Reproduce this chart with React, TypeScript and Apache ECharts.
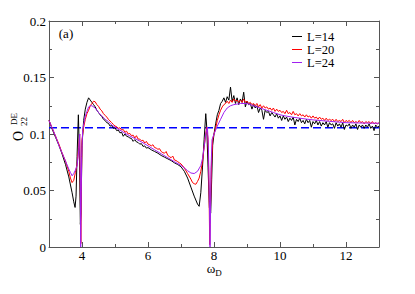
import React, { useEffect, useRef } from "react";
import * as echarts from "echarts";

const FONT = "Liberation Serif";

// axis ticks
const xMajorTicks = [4, 6, 8, 10, 12];
const xMinorTicks = [5, 7, 9, 11];
const referenceLevel = 0.1055;

const seriesNames = ["L=14", "L=20", "L=24"];
const seriesColors = ["#000000", "#ff0000", "#a020f0"];

// L=14 (black) head part
const x14Head = [3.0, 3.1, 3.2, 3.3, 3.4, 3.5, 3.6, 3.7, 3.75, 3.79, 3.82, 3.85, 3.89, 3.92, 3.95, 3.97, 4.0, 4.05, 4.1, 4.15, 4.2, 4.25, 4.3, 4.35, 4.4, 4.45, 4.5, 4.55, 4.6, 4.65, 4.7, 4.75, 4.8, 4.85, 4.9, 4.95, 5.0, 5.05, 5.1, 5.15, 5.2, 5.25, 5.3, 5.35, 5.4, 5.45, 5.5, 5.55, 5.6, 5.65, 5.7, 5.75, 5.8, 5.85, 5.9, 5.95, 6.0, 6.1, 6.2, 6.3, 6.4, 6.5, 6.6, 6.7, 6.8, 6.9, 7.0, 7.1, 7.2, 7.3, 7.4, 7.5, 7.55, 7.6, 7.65, 7.7, 7.75, 7.78, 7.82, 7.86, 7.9, 7.93, 7.96];
const y14Head = [0.112, 0.104, 0.097, 0.09, 0.082, 0.073, 0.062, 0.048, 0.04, 0.035, 0.045, 0.08, 0.117, 0.085, 0.02, 0.03, 0.09, 0.112, 0.122, 0.128, 0.132, 0.13, 0.128, 0.126, 0.124, 0.121, 0.119, 0.117, 0.1155, 0.113, 0.112, 0.11, 0.1095, 0.107, 0.1075, 0.105, 0.1055, 0.103, 0.1035, 0.101, 0.1015, 0.098, 0.1, 0.098, 0.0975, 0.0965, 0.096, 0.0935, 0.095, 0.093, 0.0925, 0.091, 0.0915, 0.089, 0.0895, 0.0875, 0.088, 0.086, 0.0845, 0.083, 0.081, 0.0795, 0.078, 0.0765, 0.0745, 0.073, 0.071, 0.067, 0.061, 0.053, 0.045, 0.038, 0.036, 0.048, 0.07, 0.095, 0.118, 0.106, 0.07, 0.035, 0.03, 0.06, 0.09];

// sampling grid of the noisy tail (8.00 .. 13.00, step 0.05)
const xTail = Array.from({ length: 101 }, (_, i) => Math.round((8 + i * 0.05) * 100) / 100);

const y14Tail = [0.1, 0.109, 0.117, 0.121, 0.127, 0.129, 0.132, 0.128, 0.133, 0.13, 0.1415, 0.129, 0.134, 0.127, 0.132, 0.126, 0.131, 0.128, 0.137, 0.124, 0.129, 0.126, 0.127, 0.122, 0.126, 0.123, 0.125, 0.119, 0.123, 0.121, 0.113, 0.121, 0.119, 0.12, 0.116, 0.119, 0.117, 0.115, 0.118, 0.114, 0.116, 0.112, 0.116, 0.113, 0.115, 0.111, 0.114, 0.112, 0.115, 0.108, 0.113, 0.111, 0.114, 0.11, 0.112, 0.109, 0.113, 0.11, 0.112, 0.106, 0.111, 0.109, 0.112, 0.108, 0.111, 0.107, 0.11, 0.108, 0.111, 0.106, 0.11, 0.108, 0.109, 0.105, 0.11, 0.107, 0.109, 0.106, 0.11, 0.104, 0.108, 0.107, 0.109, 0.105, 0.108, 0.106, 0.109, 0.104, 0.108, 0.106, 0.108, 0.105, 0.108, 0.106, 0.109, 0.105, 0.107, 0.103, 0.108, 0.106, 0.107];

// L=20 (red)
const x20Head = [3.0, 3.1, 3.2, 3.3, 3.4, 3.5, 3.6, 3.65, 3.7, 3.75, 3.8, 3.85, 3.9, 3.93, 3.95, 3.965, 3.98, 4.0, 4.05, 4.1, 4.15, 4.2, 4.25, 4.3, 4.35, 4.4, 4.45, 4.5, 4.55, 4.6, 4.65, 4.7, 4.75, 4.8, 4.85, 4.9, 4.95, 5.0, 5.05, 5.1, 5.15, 5.2, 5.25, 5.3, 5.35, 5.4, 5.45, 5.5, 5.55, 5.6, 5.65, 5.7, 5.75, 5.8, 5.85, 5.9, 5.95, 6.0, 6.05, 6.1, 6.15, 6.2, 6.25, 6.3, 6.35, 6.4, 6.45, 6.5, 6.55, 6.6, 6.65, 6.7, 6.75, 6.8, 6.85, 6.9, 6.95, 7.0, 7.1, 7.2, 7.3, 7.35, 7.4, 7.45, 7.5, 7.55, 7.6, 7.65, 7.7, 7.75, 7.78, 7.82, 7.85, 7.87, 7.89, 7.92, 7.96];
const y20Head = [0.112, 0.105, 0.098, 0.091, 0.083, 0.076, 0.067, 0.061, 0.057, 0.059, 0.066, 0.073, 0.088, 0.1, 0.05, 0.003, 0.05, 0.095, 0.106, 0.113, 0.118, 0.121, 0.125, 0.127, 0.129, 0.1285, 0.126, 0.1245, 0.122, 0.1205, 0.118, 0.1165, 0.115, 0.113, 0.1115, 0.11, 0.1085, 0.107, 0.1065, 0.105, 0.1055, 0.1035, 0.104, 0.1015, 0.1025, 0.1, 0.1005, 0.0985, 0.099, 0.0965, 0.0985, 0.0955, 0.0955, 0.094, 0.0945, 0.092, 0.0935, 0.091, 0.0905, 0.0895, 0.0905, 0.088, 0.0875, 0.0865, 0.087, 0.0845, 0.0835, 0.083, 0.0845, 0.081, 0.08, 0.079, 0.0805, 0.077, 0.0765, 0.0755, 0.0745, 0.0735, 0.07, 0.065, 0.06, 0.057, 0.056, 0.0555, 0.058, 0.061, 0.067, 0.075, 0.088, 0.1, 0.106, 0.095, 0.05, 0.002, 0.03, 0.07, 0.095];
const y20Tail = [0.1, 0.105, 0.112, 0.117, 0.121, 0.124, 0.126, 0.127, 0.129, 0.127, 0.13, 0.128, 0.131, 0.129, 0.13, 0.128, 0.13, 0.128, 0.131, 0.128, 0.129, 0.127, 0.128, 0.126, 0.127, 0.125, 0.127, 0.124, 0.126, 0.123, 0.125, 0.123, 0.124, 0.122, 0.123, 0.121, 0.123, 0.12, 0.122, 0.12, 0.121, 0.119, 0.12, 0.118, 0.121, 0.118, 0.119, 0.117, 0.12, 0.117, 0.118, 0.116, 0.118, 0.116, 0.117, 0.115, 0.117, 0.115, 0.116, 0.114, 0.116, 0.114, 0.115, 0.113, 0.115, 0.113, 0.114, 0.112, 0.114, 0.112, 0.113, 0.112, 0.113, 0.111, 0.113, 0.111, 0.112, 0.111, 0.113, 0.11, 0.112, 0.111, 0.112, 0.11, 0.112, 0.11, 0.111, 0.11, 0.112, 0.11, 0.111, 0.109, 0.111, 0.11, 0.111, 0.109, 0.111, 0.109, 0.11, 0.109, 0.11];

// L=24 (purple)
const x24 = [3.0, 3.1, 3.2, 3.3, 3.4, 3.5, 3.6, 3.65, 3.7, 3.75, 3.8, 3.85, 3.9, 3.93, 3.95, 3.96, 3.97, 3.99, 4.02, 4.06, 4.1, 4.15, 4.2, 4.25, 4.3, 4.4, 4.5, 4.6, 4.7, 4.8, 4.9, 5.0, 5.2, 5.4, 5.6, 5.8, 6.0, 6.2, 6.4, 6.6, 6.8, 7.0, 7.1, 7.2, 7.3, 7.4, 7.5, 7.6, 7.65, 7.7, 7.75, 7.8, 7.83, 7.86, 7.88, 7.89, 7.91, 7.94, 8.0, 8.1, 8.2, 8.3, 8.4, 8.5, 8.6, 8.8, 9.0, 9.2, 9.4, 9.6, 9.8, 10.0, 10.2, 10.4, 10.6, 10.8, 11.0, 11.5, 12.0, 12.5, 13.0];
const y24 = [0.112, 0.105, 0.098, 0.09, 0.083, 0.076, 0.069, 0.066, 0.063, 0.065, 0.068, 0.072, 0.085, 0.1, 0.06, 0.0, 0.03, 0.08, 0.103, 0.11, 0.116, 0.12, 0.124, 0.125, 0.125, 0.123, 0.119, 0.116, 0.113, 0.111, 0.108, 0.106, 0.1025, 0.099, 0.096, 0.093, 0.0895, 0.086, 0.0825, 0.079, 0.0755, 0.0722, 0.07, 0.0675, 0.0655, 0.065, 0.067, 0.072, 0.078, 0.088, 0.1, 0.106, 0.09, 0.04, 0.0, 0.02, 0.07, 0.095, 0.1, 0.107, 0.113, 0.119, 0.123, 0.125, 0.126, 0.127, 0.127, 0.125, 0.123, 0.121, 0.119, 0.117, 0.1158, 0.1148, 0.114, 0.1132, 0.1125, 0.1112, 0.11, 0.1097, 0.1095];

const pairs = (xs: number[], ys: number[]) => xs.map((x, i) => [x, ys[i]]);

const txt = (text: string, x: number, y: number, fontSize: number, rotation = 0, lineHeight = fontSize) => ({
  type: "text",
  x,
  y,
  rotation,
  style: {
    text,
    fontFamily: FONT,
    fontSize,
    lineHeight,
    fill: "#000",
    align: "center",
    verticalAlign: "middle",
  },
});

export default function App() {
  const ref = useRef<HTMLDivElement>(null);
  useEffect(() => {
    document.body.style.margin = "0";
    const chart = echarts.init(ref.current!, null, { renderer: "svg" });
    const axisColor = "#555";
    const labelStyle = { fontFamily: FONT, fontSize: 13, color: "#000" };
    const baseX = { type: "value", min: 3, max: 13, interval: 1, splitLine: { show: false } } as any;
    const baseY = { type: "value", min: 0, max: 0.2, interval: 0.05, splitLine: { show: false } } as any;
    const yFmt = (v: number) => (v === 0 ? "0" : String(Math.round(v * 100) / 100));

    const series14 = [...pairs(x14Head, y14Head), ...pairs(xTail, y14Tail)];
    const series20 = [...pairs(x20Head, y20Head), ...pairs(xTail, y20Tail)];
    const series24 = pairs(x24, y24);
    const datasets = [series14, series20, series24];

    chart.setOption({
      animation: false,
      grid: { left: 49, right: 36, top: 21, bottom: 47, containLabel: false },
      xAxis: [
        {
          ...baseX,
          position: "bottom",
          axisLine: { show: true, lineStyle: { color: axisColor, width: 1 } },
          axisTick: { show: true, inside: true, length: 5, customValues: xMajorTicks, lineStyle: { color: axisColor } },
          axisLabel: { ...labelStyle, margin: 3, lineHeight: 11, customValues: xMajorTicks },
        },
        {
          ...baseX,
          position: "bottom",
          axisLine: { show: false },
          axisTick: { show: true, inside: true, length: 3, customValues: xMinorTicks, lineStyle: { color: axisColor } },
          axisLabel: { show: false },
        },
        {
          ...baseX,
          position: "top",
          axisLine: { show: true, lineStyle: { color: axisColor, width: 1 } },
          axisTick: { show: true, inside: true, length: 5, customValues: xMajorTicks, lineStyle: { color: axisColor } },
          axisLabel: { show: false },
        },
        {
          ...baseX,
          position: "top",
          axisLine: { show: false },
          axisTick: { show: true, inside: true, length: 3, customValues: xMinorTicks, lineStyle: { color: axisColor } },
          axisLabel: { show: false },
        },
      ],
      yAxis: [
        {
          ...baseY,
          position: "left",
          axisLine: { show: true, lineStyle: { color: axisColor, width: 1 } },
          axisTick: { show: true, inside: true, length: 5, lineStyle: { color: axisColor } },
          minorTick: { show: true, splitNumber: 2, length: 3, lineStyle: { color: axisColor } },
          axisLabel: { ...labelStyle, margin: 3, formatter: yFmt },
        },
        {
          ...baseY,
          position: "right",
          axisLine: { show: true, lineStyle: { color: axisColor, width: 1 } },
          axisTick: { show: true, inside: true, length: 5, lineStyle: { color: axisColor } },
          minorTick: { show: true, splitNumber: 2, length: 3, lineStyle: { color: axisColor } },
          axisLabel: { show: false },
        },
      ],
      legend: {
        data: seriesNames,
        orient: "vertical",
        left: 292,
        top: 30,
        padding: 0,
        itemWidth: 10,
        itemHeight: 1,
        itemGap: 0,
        icon: "rect",
        textStyle: { fontFamily: FONT, fontSize: 12.5, color: "#000", lineHeight: 13 },
      },
      series: [
        {
          type: "line",
          name: "reference",
          data: [[3, referenceLevel], [13, referenceLevel]],
          symbol: "none",
          silent: true,
          lineStyle: { color: "#0000ff", width: 1.5, type: [8, 4] },
          itemStyle: { color: "#0000ff" },
        },
        ...seriesNames.map((name, i) => ({
          type: "line",
          name,
          data: datasets[i],
          symbol: "none",
          lineStyle: { color: seriesColors[i], width: 1 },
          itemStyle: { color: seriesColors[i] },
        })),
      ],
      graphic: [
        txt("(a)", 66, 33, 13),
        txt("ω", 211, 268.5, 13, 0, 10),
        txt("D", 218.5, 272.5, 9),
        txt("O", 18, 136, 14, Math.PI / 2),
        txt("22", 24, 121.5, 9, Math.PI / 2),
        txt("DE", 14, 119, 9, Math.PI / 2),
      ],
    });
    return () => chart.dispose();
  }, []);
  return <div ref={ref} style={{ width: 415, height: 294 }} />;
}
